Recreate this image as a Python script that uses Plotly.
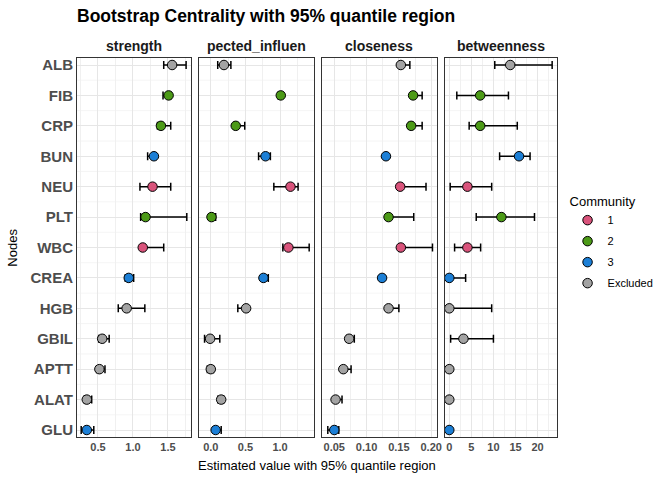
import plotly.graph_objects as go
from plotly.subplots import make_subplots

# Nodes top to bottom, with their community
nodes = ["ALB", "FIB", "CRP", "BUN", "NEU", "PLT", "WBC", "CREA", "HGB", "GBIL", "APTT", "ALAT", "GLU"]
community = ["Excluded", "2", "2", "3", "1", "2", "1", "3", "Excluded", "Excluded", "Excluded", "Excluded", "3"]

# strength
strength_est = [1.56, 1.51, 1.40, 1.30, 1.28, 1.18, 1.14, 0.94, 0.91, 0.56, 0.52, 0.34, 0.34]
strength_lo = [1.44, 1.43, 1.35, 1.21, 1.10, 1.11, 1.12, 0.89, 0.79, 0.51, 0.48, 0.30, 0.26]
strength_hi = [1.76, 1.54, 1.54, 1.33, 1.54, 1.77, 1.44, 1.01, 1.17, 0.66, 0.60, 0.41, 0.44]

# expected influence
ei_est = [0.19, 1.01, 0.36, 0.79, 1.15, 0.01, 1.12, 0.76, 0.51, -0.01, 0.00, 0.15, 0.07]
ei_lo = [0.10, 0.97, 0.33, 0.69, 0.91, -0.03, 1.04, 0.74, 0.39, -0.09, -0.05, 0.10, 0.03]
ei_hi = [0.29, 1.02, 0.49, 0.86, 1.26, 0.07, 1.42, 0.83, 0.52, 0.13, 0.04, 0.19, 0.15]

# closeness
cl_est = [0.153, 0.172, 0.169, 0.130, 0.152, 0.134, 0.153, 0.124, 0.134, 0.073, 0.064, 0.052, 0.050]
cl_lo = [0.150, 0.170, 0.165, 0.128, 0.150, 0.130, 0.151, 0.122, 0.132, 0.069, 0.062, 0.050, 0.040]
cl_hi = [0.167, 0.186, 0.186, 0.132, 0.192, 0.173, 0.202, 0.126, 0.150, 0.081, 0.076, 0.062, 0.057]

# betweenness
bt_est = [13.8, 7.0, 7.0, 15.8, 4.1, 11.8, 4.1, 0.0, 0.0, 3.2, 0.0, 0.0, 0.0]
bt_lo = [10.3, 1.7, 4.5, 11.4, 0.2, 6.1, 1.2, 0.0, 0.0, 0.3, 0.0, 0.0, 0.0]
bt_hi = [23.3, 13.4, 15.4, 18.3, 9.6, 19.3, 7.1, 3.7, 9.6, 10.0, 0.0, 0.0, 0.0]

strip_labels = ["strength", "pected_influen", "closeness", "betweenness"]
comm_order = ["1", "2", "3", "Excluded"]
comm_colors = {"1": "#D9537B", "2": "#4C9A17", "3": "#1C7FD6", "Excluded": "#A3A3A3"}

panels = [
    (strength_est, strength_lo, strength_hi),
    (ei_est, ei_lo, ei_hi),
    (cl_est, cl_lo, cl_hi),
    (bt_est, bt_lo, bt_hi),
]
x_ranges = [[0.2, 1.83], [-0.17, 1.49], [0.031, 0.209], [-0.97, 24.4]]
x_ticks = [[0.5, 1.0, 1.5], [0.0, 0.5, 1.0], [0.05, 0.10, 0.15, 0.20], [0, 5, 10, 15, 20]]
x_ticktext = [["0.5", "1.0", "1.5"], ["0.0", "0.5", "1.0"],
              ["0.05", "0.10", "0.15", "0.20"], ["0", "5", "10", "15", "20"]]
x_minor = [0.25, 0.25, 0.025, 2.5]
domains = [[0.0, 0.2375], [0.2542, 0.4938], [0.5104, 0.75], [0.7667, 1.0]]

FONT = "Liberation Sans"
GRID = "#E6E6E6"
MINOR = "#F0F0F0"

fig = make_subplots(rows=1, cols=4, shared_yaxes=False, horizontal_spacing=0.02)

for p, (est, lo, hi) in enumerate(panels):
    for c in comm_order:
        idx = [i for i, cm in enumerate(community) if cm == c]
        fig.add_trace(go.Scatter(
            x=[est[i] for i in idx],
            y=[nodes[i] for i in idx],
            mode="markers",
            name=c,
            legendgroup=c,
            showlegend=(p == 0),
            marker=dict(size=9.5, color=comm_colors[c], line=dict(color="black", width=1)),
            error_x=dict(
                type="data", symmetric=False,
                array=[hi[i] - est[i] for i in idx],
                arrayminus=[est[i] - lo[i] for i in idx],
                color="black", thickness=1.5, width=4,
            ),
        ), row=1, col=p + 1)

for p in range(4):
    ax = "xaxis" if p == 0 else f"xaxis{p + 1}"
    ay = "yaxis" if p == 0 else f"yaxis{p + 1}"
    fig.layout[ax].update(
        domain=domains[p], range=x_ranges[p], automargin=False,
        tickvals=x_ticks[p], ticktext=x_ticktext[p],
        tickfont=dict(family=FONT, size=11, color="#4D4D4D", weight="bold"),
        showgrid=True, gridcolor=GRID, gridwidth=1.1, zeroline=False,
        minor=dict(dtick=x_minor[p], tick0=0, showgrid=True, gridcolor=MINOR, gridwidth=0.7),
        showline=True, mirror=True, linecolor="#333333", linewidth=1, ticks="",
    )
    fig.layout[ay].update(
        type="category", categoryorder="array", categoryarray=nodes[::-1],
        range=[-0.23, 12.23], showticklabels=(p == 0), automargin=False,
        tickfont=dict(family=FONT, size=15, color="#4D4D4D", weight="bold"),
        showgrid=True, gridcolor=GRID, gridwidth=1.1, zeroline=False,
        showline=True, mirror=True, linecolor="#333333", linewidth=1, ticks="",
    )
    # minor horizontal grid between rows
    for k in range(len(nodes) - 1):
        fig.add_shape(type="line", xref=f"x{'' if p == 0 else p + 1} domain",
                      yref=f"y{'' if p == 0 else p + 1}",
                      x0=0, x1=1, y0=k + 0.5, y1=k + 0.5,
                      line=dict(color=MINOR, width=0.7), layer="below")
    # facet strip label
    fig.add_annotation(x=sum(domains[p]) / 2, y=1, xref="paper", yref="paper",
                       xanchor="center", yanchor="bottom", yshift=2, showarrow=False,
                       text=strip_labels[p],
                       font=dict(family=FONT, size=14, color="#1A1A1A", weight="bold"))

fig.add_annotation(x=0.5, y=0, xref="paper", yref="paper", xanchor="center", yanchor="top",
                   yshift=-19, showarrow=False, text="Estimated value with 95% quantile region",
                   font=dict(family=FONT, size=13, color="black"))
fig.add_annotation(x=-0.135, y=0.5, xref="paper", yref="paper", xanchor="center",
                   textangle=-90, showarrow=False, text="Nodes",
                   font=dict(family=FONT, size=13, color="black"))

fig.update_layout(
    width=672, height=480,
    margin=dict(l=77, r=115, t=58, b=43),
    plot_bgcolor="white", paper_bgcolor="white",
    title=dict(text="<b>Bootstrap Centrality with 95% quantile region</b>",
               x=77 / 672, xanchor="left", y=1 - 16 / 480, yanchor="middle",
               font=dict(family=FONT, size=17.5, color="black")),
    legend=dict(title=dict(text="Community", font=dict(family=FONT, size=13, color="black")),
                font=dict(family=FONT, size=11, color="black"),
                x=1.022, xanchor="left", y=0.655, yanchor="top",
                itemsizing="trace", tracegroupgap=2),
)

# the browser's default body margin would shift the figure by 8px
fig.write_html("out.html", config={"displayModeBar": False},
               post_script="document.body.style.margin = '0';")
